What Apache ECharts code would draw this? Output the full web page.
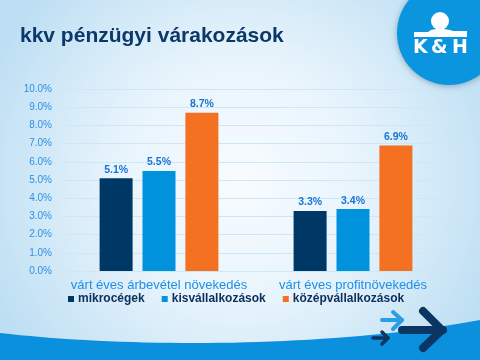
<!DOCTYPE html>
<html>
<head>
<meta charset="utf-8">
<script src="https://cdn.jsdelivr.net/npm/echarts@6/dist/echarts.min.js"></script>
<style>
html,body{margin:0;padding:0;background:#fff;}
#chart{width:480px;height:360px;}
</style>
</head>
<body>
<div id="chart"></div>
<script>
// ---- data ----
var categories = ['várt éves árbevétel növekedés', 'várt éves profitnövekedés'];
var seriesNames = ['mikrocégek', 'kisvállalkozások', 'középvállalkozások'];
var mikro = [5.1, 3.3];
var kis = [5.5, 3.4];
var kozep = [8.7, 6.9];
var yTicks = { min: 0, max: 10, interval: 1 };
var titleText = 'kkv pénzügyi várakozások';

var colors = ['#003865', '#0092dd', '#f37121'];
var valuesList = [mikro, kis, kozep];

var chart = echarts.init(document.getElementById('chart'), null, { renderer: 'canvas' });

var series = seriesNames.map(function (name, i) {
  return {
    name: name,
    type: 'bar',
    data: valuesList[i],
    barWidth: 33,
    barGap: '30%',
    itemStyle: { color: colors[i] },
    label: {
      show: true,
      position: 'top',
      distance: 3,
      color: '#1a74d2',
      fontFamily: 'Liberation Sans, Arial, sans-serif',
      fontSize: 10.5,
      fontWeight: 'bold',
      formatter: function (p) { return p.value.toFixed(1) + '%'; }
    },
    z: 5
  };
});

// decorative wave outline (cubic bezier sampled)
function bezierPts(p0, p1, p2, p3, n) {
  var pts = [];
  for (var i = 0; i <= n; i++) {
    var t = i / n, u = 1 - t;
    pts.push([
      u*u*u*p0[0] + 3*u*u*t*p1[0] + 3*u*t*t*p2[0] + t*t*t*p3[0],
      u*u*u*p0[1] + 3*u*u*t*p1[1] + 3*u*t*t*p2[1] + t*t*t*p3[1]
    ]);
  }
  return pts;
}
var wavePts = bezierPts([0, 333], [130, 348], [330, 348], [480, 320], 40);
wavePts.push([480, 360], [0, 360]);

var bandPts = [[414, 32], [428, 32], [431, 30], [436, 29], [444, 29], [450, 30], [453, 31], [467, 31], [467, 37], [414, 37]];

var logoFont = 'bold 19px "DejaVu Sans", sans-serif';

var graphics = [
  {
    type: 'rect', z: -100, silent: true,
    shape: { x: 0, y: 0, width: 480, height: 360 },
    style: {
      fill: {
        type: 'radial', x: 0.5, y: 0.5, r: 0.75,
        colorStops: [
          { offset: 0, color: '#f8fcff' },
          { offset: 0.45, color: '#e8f4fc' },
          { offset: 1, color: '#bedff3' }
        ]
      }
    }
  },
  {
    type: 'polygon', z: -90, silent: true,
    shape: { points: wavePts },
    style: { fill: '#0a90dc' }
  },
  // title
  {
    type: 'text', z: 50, left: 20, top: 26,
    style: {
      text: titleText,
      fill: '#0b3868',
      font: 'bold 21px "Liberation Sans", Arial, sans-serif'
    }
  },
  // logo
  {
    type: 'circle', z: 60, silent: true,
    shape: { cx: 449, cy: 33, r: 52 },
    style: { fill: '#0a95de', shadowBlur: 6, shadowColor: 'rgba(0,40,80,0.35)', shadowOffsetY: 1 }
  },
  {
    type: 'circle', z: 61, silent: true,
    shape: { cx: 440, cy: 21, r: 9 },
    style: { fill: '#ffffff' }
  },
  {
    type: 'polygon', z: 61, silent: true,
    shape: { points: bandPts },
    style: { fill: '#ffffff' }
  },
  {
    type: 'text', z: 62, left: 413, top: 39,
    style: { text: 'K', fill: '#fff', font: logoFont }
  },
  {
    type: 'text', z: 62, left: 431, top: 39,
    style: { text: '&', fill: '#fff', font: logoFont }
  },
  {
    type: 'text', z: 62, left: 452, top: 39,
    style: { text: 'H', fill: '#fff', font: logoFont }
  },
  // arrows
  {
    type: 'polyline', z: 40, silent: true,
    shape: { points: [[402, 330], [443, 330]] },
    style: { stroke: '#0b3563', lineWidth: 8, lineCap: 'round', fill: null }
  },
  {
    type: 'polyline', z: 40, silent: true,
    shape: { points: [[423, 311], [442, 330], [423, 348]] },
    style: { stroke: '#0b3563', lineWidth: 8, lineCap: 'round', lineJoin: 'round', fill: null }
  },
  {
    type: 'polyline', z: 40, silent: true,
    shape: { points: [[382, 320], [402, 320]] },
    style: { stroke: '#2a9ee5', lineWidth: 4, lineCap: 'round', fill: null }
  },
  {
    type: 'polyline', z: 40, silent: true,
    shape: { points: [[393, 312], [402, 320], [393, 329]] },
    style: { stroke: '#2a9ee5', lineWidth: 4, lineCap: 'round', lineJoin: 'round', fill: null }
  },
  {
    type: 'polyline', z: 40, silent: true,
    shape: { points: [[373, 338], [388, 338]] },
    style: { stroke: '#0b3563', lineWidth: 3.5, lineCap: 'round', fill: null }
  },
  {
    type: 'polyline', z: 40, silent: true,
    shape: { points: [[382, 332], [388, 338], [382, 344]] },
    style: { stroke: '#0b3563', lineWidth: 3.5, lineCap: 'round', lineJoin: 'round', fill: null }
  }
];

var option = {
  animation: false,
  textStyle: { fontFamily: 'Liberation Sans, Arial, sans-serif' },
  graphic: graphics,
  grid: { left: 62, right: 30, top: 89, bottom: 89, containLabel: false },
  legend: {
    data: seriesNames,
    left: 68,
    top: 293,
    padding: 0,
    icon: 'rect',
    itemWidth: 6,
    itemHeight: 6,
    itemGap: 17,
    textStyle: {
      color: '#0b2e5c',
      fontSize: 12,
      fontWeight: 'bold',
      fontFamily: 'Liberation Sans, Arial, sans-serif',
      padding: [0, 0, 0, -1]
    }
  },
  xAxis: {
    type: 'category',
    data: categories,
    axisLine: { show: false },
    axisTick: { show: false },
    axisLabel: {
      interval: 0,
      color: '#1f8fe6',
      fontSize: 13,
      margin: 8,
      fontFamily: 'Liberation Sans, Arial, sans-serif'
    }
  },
  yAxis: {
    type: 'value',
    min: yTicks.min,
    max: yTicks.max,
    interval: yTicks.interval,
    axisLine: { show: false },
    axisTick: { show: false },
    splitLine: { lineStyle: { color: '#cde6f8', width: 1 } },
    axisLabel: {
      color: '#2f8fe6',
      fontSize: 10,
      margin: 10,
      fontFamily: 'Liberation Sans, Arial, sans-serif',
      formatter: function (v) { return v.toFixed(1) + '%'; }
    }
  },
  series: series
};

chart.setOption(option);
</script>
</body>
</html>
